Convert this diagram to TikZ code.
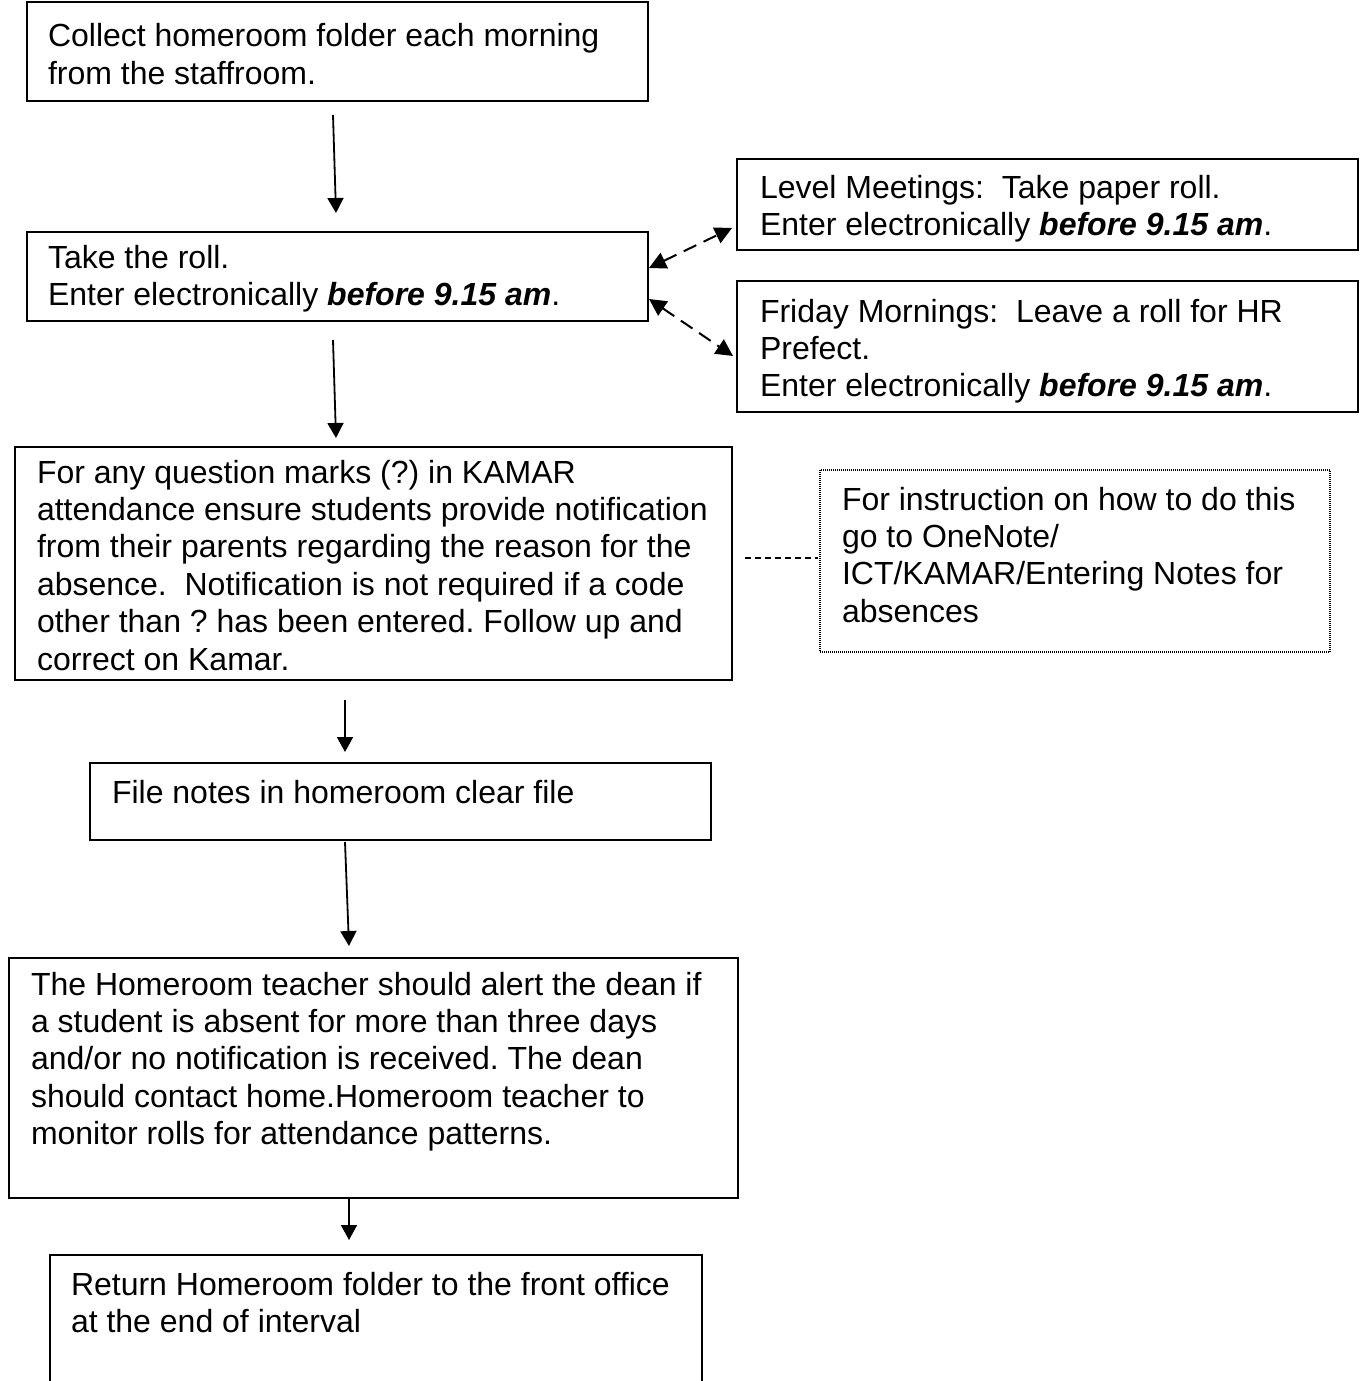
\documentclass[tikz,border=0pt]{standalone}
\usepackage{fontspec}
\setmainfont{Liberation Sans}
\usetikzlibrary{arrows.meta}
\frenchspacing
\newcommand\boxlines[1]{\parbox[t]{720pt}{\raggedright\frenchspacing #1}}
\newcommand\due{\textbf{\textit{before 9.15 am}}}
\begin{document}
\begin{tikzpicture}[x=1pt,y=-1pt,
  flowbox/.style={draw=black,line width=1.6pt,inner sep=0pt,outer sep=0pt},
  notebox/.style={draw=black,line width=1.3pt,dash pattern=on 1pt off 1pt,inner sep=0pt,outer sep=0pt},
  txt/.style={anchor=base west,inner sep=0pt,outer sep=0pt,font=\fontsize{32}{37.4}\selectfont},
  arr/.style={line width=1.8pt,-{Triangle[length=15pt,width=16pt]}},
  darr/.style={line width=2pt,dash pattern=on 14pt off 8pt,{Triangle[length=17pt,width=17pt]}-{Triangle[length=17pt,width=17pt]}},
  link/.style={line width=1.2pt,dash pattern=on 6pt off 4pt}]
\useasboundingbox (0,0) rectangle (1365,1381);
\clip (0,0) rectangle (1365,1381);
\fill[white] (0,0) rectangle (1365,1381);
% boxes
\node[flowbox,minimum width=621pt,minimum height=99pt] (b1) at (337.5,51.5) {};
\node[flowbox,minimum width=621pt,minimum height=89pt] (b2) at (337.5,276.5) {};
\node[flowbox,minimum width=621pt,minimum height=91pt] (b3) at (1047.5,204.5) {};
\node[flowbox,minimum width=621pt,minimum height=131pt] (b4) at (1047.5,346.5) {};
\node[flowbox,minimum width=717pt,minimum height=233pt] (b5) at (373.5,563.5) {};
\node[notebox,minimum width=510pt,minimum height=182pt] (b6) at (1075,561) {};
\node[flowbox,minimum width=621pt,minimum height=77pt] (b7) at (400.5,801.5) {};
\node[flowbox,minimum width=729pt,minimum height=240pt] (b8) at (373.5,1078) {};
\node[flowbox,minimum width=652pt,minimum height=150pt] (b9) at (376,1330) {};
% texts
\node[txt] (t1) at (48,47) {\boxlines{Collect homeroom folder each morning\\from the staffroom.}};
\node[txt] (t2) at (48,268) {\boxlines{Take the roll.\\Enter electronically \due.}};
\node[txt] (t3) at (760,198) {\boxlines{Level Meetings:\ \ Take paper roll.\\Enter electronically \due.}};
\node[txt] (t4) at (760,322) {\boxlines{Friday Mornings:\ \ Leave a roll for HR\\Prefect.\\Enter electronically \due.}};
\node[txt] (t5) at (37,483) {\boxlines{For any question marks (?) in KAMAR\\attendance ensure students provide notification\\from their parents regarding the reason for the\\absence.\ \ Notification is not required if a code\\other than ? has been entered. Follow up and\\correct on Kamar.}};
\node[txt] (t6) at (842,510) {\boxlines{For instruction on how to do this\\go to OneNote/\\ICT/KAMAR/Entering Notes for\\absences}};
\node[txt] (t7) at (112,803) {File notes in homeroom clear file};
\node[txt] (t8) at (31,995) {\boxlines{The Homeroom teacher should alert the dean if\\a student is absent for more than three days\\and/or no notification is received. The dean\\should contact home.Homeroom teacher to\\monitor rolls for attendance patterns.}};
\node[txt] (t9) at (71,1295) {\boxlines{Return Homeroom folder to the front office\\at the end of interval}};
% connectors
\draw[arr] ([shift={(-4.5,14)}]b1.south) -- ([shift={(-1.5,-19)}]b2.north);
\draw[arr] ([shift={(-4.5,19)}]b2.south) -- ([shift={(-37.5,-9)}]b5.north);
\draw[arr] ([shift={(-28.5,20)}]b5.south) -- ([shift={(-55.5,-11)}]b7.north);
\draw[arr] ([shift={(-55.5,2)}]b7.south) -- ([shift={(-24.5,-12)}]b8.north);
\draw[arr] ([shift={(-24.5,1)}]b8.south) -- ([shift={(-27,-15)}]b9.north);
\draw[darr] ([shift={(1,-8.5)}]b2.east) -- ([shift={(-5,23.5)}]b3.west);
\draw[darr] ([shift={(1,22.5)}]b2.east) -- ([shift={(-4,9.5)}]b4.west);
\draw[link] ([shift={(13,-5.5)}]b5.east) -- ([shift={(-2,-3)}]b6.west);
\end{tikzpicture}
\end{document}
